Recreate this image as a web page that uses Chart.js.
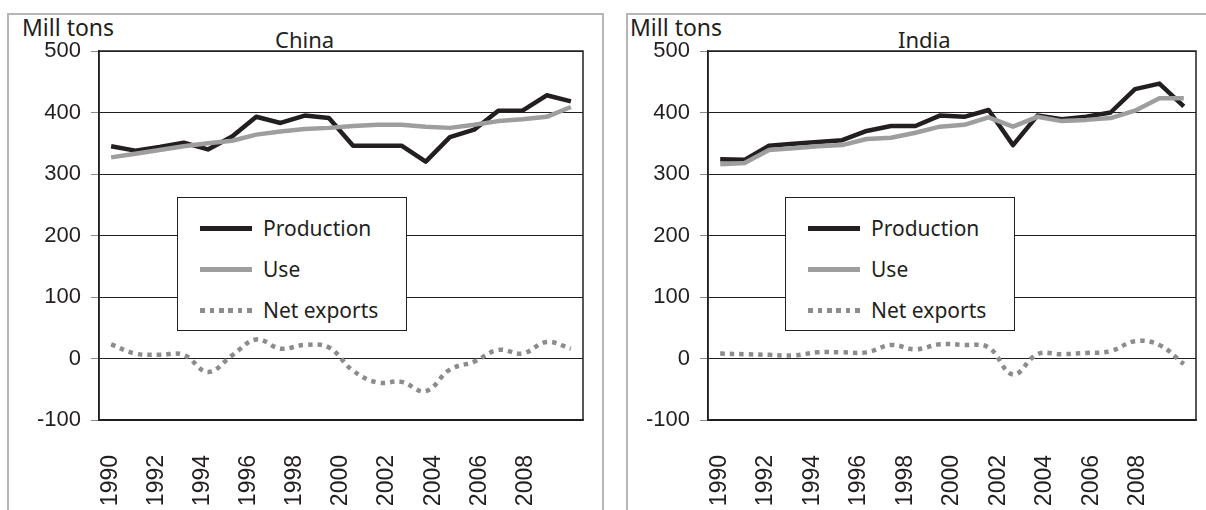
<!DOCTYPE html>
<html>
<head>
<meta charset="utf-8">
<script src="https://cdn.jsdelivr.net/npm/chart.js@4.4.1/dist/chart.umd.min.js"></script>
<style>
body { margin:0; width:1206px; height:510px; overflow:hidden; background:#fff; position:relative; font-family:"Noto Sans", sans-serif; color:#231f20; }
.panel { position:absolute; top:13px; height:530px; border:2px solid #b5b5b5; box-sizing:border-box; }
.txt { position:absolute; font-size:23px; line-height:1; white-space:nowrap; }
canvas { position:absolute; top:0; }
.legend { position:absolute; top:197px; width:230px; height:134px; border:1px solid #231f20; background:#fff; box-sizing:border-box; }
.legend .row { position:absolute; left:0; width:100%; height:30px; }
.legend .swatch { position:absolute; left:22px; top:13px; width:52px; height:4.5px; }
.legend .lab { position:absolute; left:85px; top:0; font-size:21px; line-height:30px; white-space:nowrap; }
</style>
</head>
<body>

<div class="panel" style="left:7px; width:597px;"></div>
<div class="panel" style="left:626px; width:600px;"></div>

<div class="txt" style="left:22px; top:16px;">Mill tons</div>
<div class="txt" style="left:275px; top:28px; font-size:22px;">China</div>
<div class="txt" style="left:630px; top:16px;">Mill tons</div>
<div class="txt" style="left:898px; top:28px; font-size:22px;">India</div>

<canvas id="chinaChart" width="604" height="510" style="left:0px;"></canvas>
<canvas id="indiaChart" width="602" height="510" style="left:604px;"></canvas>

<div class="legend" id="chinaLegend" style="left:177px;"></div>
<div class="legend" id="indiaLegend" style="left:785px;"></div>

<script>
// years of the data
const years = ["1990","1991","1992","1993","1994","1995","1996","1997","1998","1999",
               "2000","2001","2002","2003","2004","2005","2006","2007","2008","2009"];
// labels printed under the axis (one slot more than the data, as in the original)
const tickYears = ["1990","","1992","","1994","","1996","","1998","","2000",
                   "","2002","","2004","","2006","","2008","",""];
const yTicks = [-100, 0, 100, 200, 300, 400, 500];
const seriesNames = ["Production", "Use", "Net exports"];

// China, mill tons
const chinaProduction = [345, 338, 344, 351, 340, 361, 393, 383, 395, 391, 346, 346, 346, 320, 360, 372, 403, 403, 428, 418];
const chinaUse        = [327, 333, 339, 345, 350, 354, 364, 369, 373, 375, 378, 380, 380, 377, 375, 380, 386, 389, 393, 409];
const chinaNetExports = [23, 8, 6, 6, -22, 5, 31, 16, 22, 18, -20, -39, -38, -53, -18, -5, 14, 8, 27, 16];

// India, mill tons
const indiaProduction = [324, 323, 346, 349, 352, 355, 370, 378, 378, 395, 393, 404, 347, 395, 389, 393, 400, 438, 447, 410];
const indiaUse        = [316, 318, 339, 342, 345, 347, 357, 359, 367, 377, 380, 392, 377, 393, 386, 388, 391, 403, 423, 423];
const indiaNetExports = [8, 7, 6, 5, 10, 10, 10, 22, 15, 23, 22, 18, -26, 7, 7, 9, 12, 28, 22, -9];

const ink = "#231f20";
const tickFont = { family: '"Liberation Sans", Arial, sans-serif', size: 22 };

// box round the plot area
const frame = {
  id: "frame",
  beforeDatasetsDraw(chart) {
    let a = chart.chartArea;
    let ctx = chart.ctx;
    ctx.save();
    ctx.strokeStyle = ink;
    ctx.lineWidth = 1.5;
    ctx.strokeRect(a.left, a.top, a.right - a.left, a.bottom - a.top);
    ctx.restore();
  }
};

function makeDatasets(prod, use, net) {
  return [
    { label: seriesNames[0], data: prod, borderColor: ink, borderWidth: 4.5, tension: 0, order: 1, borderJoinStyle: "round" },
    { label: seriesNames[1], data: use, borderColor: "#9e9e9e", borderWidth: 4.5, tension: 0, order: 0, borderJoinStyle: "round" },
    { label: seriesNames[2], data: net, borderColor: "#8c8c8e", borderWidth: 4.5, borderDash: [4.5, 5], tension: 0.4, order: 2 }
  ];
}

function makeChart(id, datasets, plotLeft, padRight) {
  return new Chart(document.getElementById(id), {
    type: "line",
    data: { labels: years, datasets: datasets },
    options: {
      responsive: false,
      animation: false,
      devicePixelRatio: 1,
      layout: { padding: { top: 51, left: 0, right: padRight, bottom: 0 } },
      elements: { point: { radius: 0 } },
      plugins: { legend: { display: false }, tooltip: { enabled: false } },
      scales: {
        // data axis, no labels of its own
        x: {
          offset: true,
          grid: { display: false, drawTicks: false },
          border: { display: false },
          ticks: { display: false },
          afterFit: s => { s.height = 0; s.paddingLeft = 0; s.paddingRight = 0; }
        },
        // label axis
        xl: {
          type: "category",
          position: "bottom",
          labels: tickYears,
          offset: true,
          grid: { display: false, drawTicks: false },
          border: { display: true, color: ink, width: 1.5 },
          ticks: {
            autoSkip: false, minRotation: 90, maxRotation: 90, padding: 35,
            color: ink, font: { family: tickFont.family, size: 23 }
          },
          afterFit: s => { s.height = 90; s.paddingLeft = 0; s.paddingRight = 0; }
        },
        y: {
          min: yTicks[0],
          max: yTicks[yTicks.length - 1],
          afterBuildTicks: s => { s.ticks = yTicks.map(v => ({ value: v })); },
          grid: { color: ink, lineWidth: 1, tickLength: 8, tickColor: "#8a8a8a" },
          border: { color: ink, width: 1.5 },
          ticks: { padding: 10, color: ink, font: tickFont },
          afterFit: s => { s.width = plotLeft; }
        }
      }
    },
    plugins: [frame]
  });
}

// legend box drawn as html, colours taken from the datasets
function buildLegend(elId, datasets) {
  let box = document.getElementById(elId);
  let rowTops = [15, 56, 97];
  datasets.forEach((d, i) => {
    let sw = d.borderDash
      ? `background:repeating-linear-gradient(90deg, ${d.borderColor} 0 4.5px, transparent 4.5px 9.5px);`
      : `background:${d.borderColor};`;
    box.innerHTML += `
      <div class="row" style="top:${rowTops[i]}px">
        <div class="swatch" style="${sw}"></div>
        <div class="lab">${d.label}</div>
      </div>`;
  });
}

let chinaSets = makeDatasets(chinaProduction, chinaUse, chinaNetExports);
let indiaSets = makeDatasets(indiaProduction, indiaUse, indiaNetExports);

makeChart("chinaChart", chinaSets, 99, 21);
makeChart("indiaChart", indiaSets, 104, 10);

buildLegend("chinaLegend", chinaSets);
buildLegend("indiaLegend", indiaSets);
</script>
</body>
</html>
